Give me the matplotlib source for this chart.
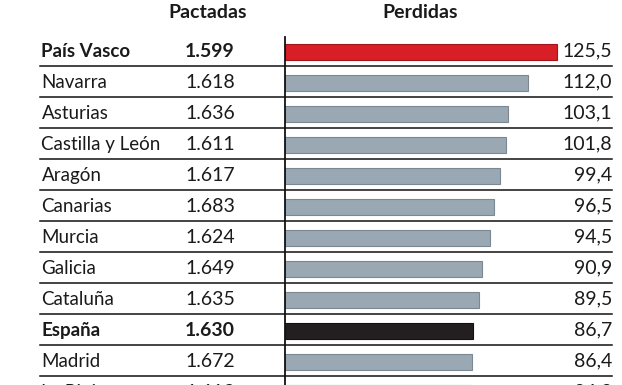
import matplotlib
import matplotlib.pyplot as plt

matplotlib.use('Agg')
plt.rcParams['font.family'] = ['Lato', 'DejaVu Sans']

regions = ['País Vasco', 'Navarra', 'Asturias', 'Castilla y León', 'Aragón', 'Canarias',
           'Murcia', 'Galicia', 'Cataluña', 'España', 'Madrid', 'La Rioja']
pactadas = [1599, 1618, 1636, 1611, 1617, 1683, 1624, 1649, 1635, 1630, 1672, 1613]
perdidas = [125.5, 112.0, 103.1, 101.8, 99.4, 96.5, 94.5, 90.9, 89.5, 86.7, 86.4, 86.2]
bold_rows = ['País Vasco', 'España']

W, H = 622, 385
fig = plt.figure(figsize=(W / 100, H / 100), dpi=100)
ax = fig.add_axes([284.5 / W, 0, 327.5 / W, 348 / H])

colors = []
edges = []
for r in regions:
    if r == 'País Vasco':
        colors.append('#d81e27')
        edges.append('#a3141b')
    elif r == 'España':
        colors.append('#231f20')
        edges.append('#111111')
    else:
        colors.append('#9aa8b3')
        edges.append('#7c8891')

ypos = [i + 0.05 for i in range(len(regions))]
ax.barh(ypos, perdidas, height=0.5, color=colors, edgecolor=edges, linewidth=0.8, left=0.3)

ax.set_xlim(0, 151.3)
ax.set_ylim((H - 50.5) / 31, (H - 50.5) / 31 - 348 / 31)
for s in ['top', 'right', 'bottom']:
    ax.spines[s].set_visible(False)
ax.spines['left'].set_linewidth(1.3)
ax.spines['left'].set_color('#111111')
ax.set_xticks([])
ax.set_yticks([])

trans = ax.get_yaxis_transform()
txt = '#1a1a1a'
for i, (r, p, v) in enumerate(zip(regions, pactadas, perdidas)):
    w = 'bold' if r in bold_rows else 'normal'
    ty = i + 0.02
    ax.text(-0.742, ty, r, transform=trans, ha='left', va='center', fontsize=13.5,
            fontweight=w, color=txt, clip_on=False)
    ptxt = f'{p:,}'.replace(',', '.')
    ax.text(-0.2275, ty, ptxt, transform=trans, ha='center', va='center', fontsize=14,
            fontweight=w, color=txt, clip_on=False)
    vtxt = f'{v:.1f}'.replace('.', ',')
    ax.text(1.0, ty, vtxt, transform=trans, ha='right', va='center', fontsize=14,
            color=txt, clip_on=False)
    if i < len(regions) - 1:
        ax.axhline(i + 0.5, xmin=-0.7466, xmax=1.0, color='#111111', linewidth=1.1,
                   clip_on=False)

hy = (12.5 - 50.5) / 31
ax.text(-0.2336, hy, 'Pactadas', transform=trans, ha='center', va='center', fontsize=14,
        fontweight='bold', color=txt, clip_on=False)
ax.text(0.4137, hy, 'Perdidas', transform=trans, ha='center', va='center', fontsize=14,
        fontweight='bold', color=txt, clip_on=False)

fig.savefig('out.png', dpi=100)
